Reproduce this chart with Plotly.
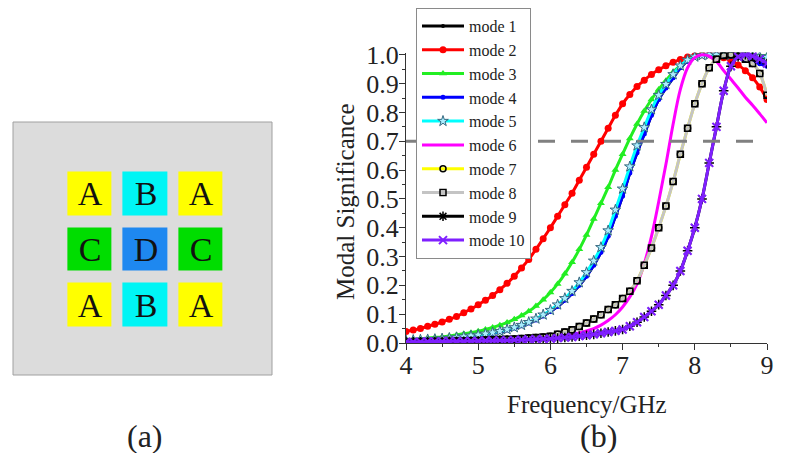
import plotly.graph_objects as go

# ---------------- data ----------------
freq = [4.0, 4.1, 4.2, 4.3, 4.4, 4.5, 4.6, 4.7, 4.8, 4.9,
        5.0, 5.1, 5.2, 5.3, 5.4, 5.5, 5.6, 5.7, 5.8, 5.9,
        6.0, 6.1, 6.2, 6.3, 6.4, 6.5, 6.6, 6.7, 6.8, 6.9,
        7.0, 7.1, 7.2, 7.3, 7.4, 7.5, 7.6, 7.7, 7.8, 7.9,
        8.0, 8.1, 8.2, 8.3, 8.4, 8.5, 8.6, 8.7, 8.8, 8.9, 9.0]

mode1 = [0.008, 0.009, 0.010, 0.011, 0.012, 0.014, 0.016, 0.018, 0.020, 0.023,
         0.026, 0.030, 0.034, 0.039, 0.045, 0.052, 0.060, 0.069, 0.080, 0.094,
         0.109, 0.127, 0.148, 0.172, 0.200, 0.232, 0.270, 0.315, 0.370, 0.440,
         0.510, 0.590, 0.660, 0.725, 0.790, 0.845, 0.885, 0.920, 0.955, 0.978,
         0.992, 0.998, 1.000, 0.999, 0.997, 0.996, 0.995, 0.994, 0.993, 0.992, 0.991]

mode2 = [0.040, 0.045, 0.050, 0.058, 0.065, 0.073, 0.082, 0.092, 0.105, 0.118,
         0.133, 0.148, 0.165, 0.185, 0.207, 0.232, 0.260, 0.290, 0.325, 0.362,
         0.400, 0.440, 0.480, 0.520, 0.565, 0.610, 0.655, 0.700, 0.745, 0.790,
         0.830, 0.862, 0.890, 0.912, 0.932, 0.948, 0.962, 0.974, 0.984, 0.992,
         0.997, 1.000, 1.000, 0.998, 0.990, 0.980, 0.965, 0.945, 0.920, 0.888, 0.845]

mode3 = [0.012, 0.013, 0.015, 0.017, 0.019, 0.021, 0.024, 0.028, 0.032, 0.036,
         0.041, 0.047, 0.054, 0.062, 0.071, 0.082, 0.095, 0.110, 0.128, 0.150,
         0.175, 0.205, 0.240, 0.280, 0.325, 0.375, 0.430, 0.485, 0.540, 0.600,
         0.655, 0.710, 0.760, 0.805, 0.845, 0.880, 0.910, 0.940, 0.962, 0.980,
         0.992, 0.998, 1.000, 1.000, 1.000, 0.999, 0.999, 0.998, 0.998, 0.997, 0.997]

mode4 = [0.008, 0.009, 0.010, 0.011, 0.012, 0.014, 0.016, 0.018, 0.020, 0.023,
         0.026, 0.030, 0.034, 0.039, 0.045, 0.052, 0.060, 0.069, 0.080, 0.094,
         0.109, 0.127, 0.148, 0.172, 0.200, 0.232, 0.270, 0.315, 0.370, 0.440,
         0.510, 0.590, 0.660, 0.725, 0.790, 0.845, 0.885, 0.920, 0.955, 0.978,
         0.992, 0.998, 1.000, 1.000, 0.998, 0.995, 0.990, 0.984, 0.977, 0.969, 0.960]

mode5 = [0.009, 0.010, 0.011, 0.012, 0.013, 0.015, 0.017, 0.019, 0.022, 0.025,
         0.028, 0.032, 0.036, 0.041, 0.047, 0.054, 0.062, 0.072, 0.084, 0.098,
         0.114, 0.133, 0.155, 0.180, 0.210, 0.245, 0.285, 0.332, 0.390, 0.462,
         0.535, 0.612, 0.685, 0.748, 0.810, 0.860, 0.898, 0.932, 0.962, 0.982,
         0.993, 0.998, 1.000, 1.000, 1.000, 0.999, 0.998, 0.997, 0.996, 0.994, 0.992]

mode6 = [0.004, 0.004, 0.005, 0.005, 0.005, 0.006, 0.006, 0.007, 0.007, 0.008,
         0.008, 0.009, 0.009, 0.010, 0.011, 0.011, 0.012, 0.014, 0.015, 0.016,
         0.018, 0.021, 0.025, 0.029, 0.035, 0.042, 0.050, 0.062, 0.078, 0.098,
         0.125, 0.160, 0.205, 0.275, 0.370, 0.490, 0.620, 0.760, 0.880, 0.955,
         0.990, 1.000, 0.995, 0.977, 0.945, 0.915, 0.885, 0.853, 0.825, 0.795, 0.764]

mode7 = [0.003, 0.003, 0.004, 0.004, 0.005, 0.005, 0.006, 0.007, 0.007, 0.008,
         0.009, 0.010, 0.011, 0.012, 0.013, 0.014, 0.016, 0.017, 0.019, 0.021,
         0.023, 0.030, 0.038, 0.046, 0.057, 0.069, 0.083, 0.098, 0.116, 0.133,
         0.154, 0.180, 0.216, 0.270, 0.330, 0.400, 0.475, 0.560, 0.655, 0.745,
         0.830, 0.900, 0.955, 0.985, 0.998, 1.000, 0.996, 0.985, 0.970, 0.935, 0.860]

mode8 = [0.003, 0.003, 0.004, 0.004, 0.005, 0.005, 0.006, 0.007, 0.007, 0.008,
         0.009, 0.010, 0.011, 0.012, 0.013, 0.014, 0.016, 0.017, 0.019, 0.021,
         0.023, 0.030, 0.038, 0.046, 0.057, 0.069, 0.083, 0.098, 0.116, 0.133,
         0.154, 0.180, 0.216, 0.270, 0.330, 0.400, 0.475, 0.560, 0.655, 0.745,
         0.830, 0.900, 0.955, 0.985, 0.998, 1.000, 0.996, 0.985, 0.970, 0.935, 0.860]

mode9 = [0.004, 0.004, 0.004, 0.005, 0.005, 0.005, 0.006, 0.006, 0.006, 0.007,
         0.007, 0.008, 0.008, 0.009, 0.009, 0.010, 0.011, 0.012, 0.013, 0.014,
         0.015, 0.017, 0.019, 0.021, 0.024, 0.027, 0.030, 0.034, 0.038, 0.042,
         0.047, 0.058, 0.072, 0.090, 0.110, 0.133, 0.165, 0.200, 0.250, 0.320,
         0.400, 0.500, 0.625, 0.750, 0.875, 0.960, 0.993, 1.000, 0.995, 0.985, 0.970]

mode10 = [0.004, 0.004, 0.004, 0.005, 0.005, 0.005, 0.006, 0.006, 0.006, 0.007,
          0.007, 0.008, 0.008, 0.009, 0.009, 0.010, 0.011, 0.012, 0.013, 0.014,
          0.015, 0.017, 0.019, 0.021, 0.024, 0.027, 0.030, 0.034, 0.038, 0.042,
          0.047, 0.058, 0.072, 0.090, 0.110, 0.133, 0.165, 0.200, 0.250, 0.320,
          0.400, 0.500, 0.625, 0.750, 0.875, 0.960, 0.993, 1.000, 0.995, 0.985, 0.970]

mode_names = ["mode 1", "mode 2", "mode 3", "mode 4", "mode 5",
              "mode 6", "mode 7", "mode 8", "mode 9", "mode 10"]
threshold = 0.7
x_ticks = [4, 5, 6, 7, 8, 9]

# panel (a): element layout
tile_labels = [["A", "B", "A"],
               ["C", "D", "C"],
               ["A", "B", "A"]]
tile_codes = [[0, 1, 0],
              [2, 3, 2],
              [0, 1, 0]]
tile_colors = ["#ffff00", "#00f5f5", "#00dd00", "#1e88f0"]

# ---------------- styles ----------------
FONT = "Liberation Serif"
series = [mode1, mode2, mode3, mode4, mode5, mode6, mode7, mode8, mode9, mode10]
styles = [
    dict(line="#000000", sym="circle", size=4, mcol="#000000", mline=0),
    dict(line="#ff0000", sym="circle", size=7, mcol="#ff0000", mline=0),
    dict(line="#22ee22", sym="triangle-up", size=7, mcol="#22ee22", mline=0),
    dict(line="#0000ff", sym="circle", size=5, mcol="#0000ff", mline=0),
    dict(line="#00ffff", sym="star", size=8, mcol="#aaeeff", mlinecol="#35687f", mline=1),
    dict(line="#ff00ff", sym=None),
    dict(line="#ffff00", sym="circle-open", size=6, mcol="#000000", mline=1.5),
    dict(line="#c4c4c4", sym="square-open", size=6, mcol="#000000", mline=1.5),
    dict(line="#000000", sym="asterisk-open", size=8, mcol="#000000", mline=1.5),
    dict(line="#7f1fff", sym="x-thin-open", size=8, mcol="#7f1fff", mline=2),
]

fig = go.Figure()

# panel (a) tiles as a gapped heatmap
fig.add_trace(go.Heatmap(
    z=tile_codes, text=tile_labels, texttemplate="%{text}",
    textfont=dict(family=FONT, size=34, color="#111111"),
    colorscale=[[0, tile_colors[0]], [1 / 3, tile_colors[1]],
                [2 / 3, tile_colors[2]], [1, tile_colors[3]]],
    zmin=0, zmax=3, showscale=False, xgap=11, ygap=12,
    hoverinfo="skip", xaxis="x2", yaxis="y2", showlegend=False))

for name, vals, st in zip(mode_names, series, styles):
    if st["sym"] is None:
        fig.add_trace(go.Scatter(x=freq, y=vals, name=name, mode="lines",
                                 line=dict(color=st["line"], width=3, shape="spline")))
    else:
        fig.add_trace(go.Scatter(
            x=freq, y=vals, name=name, mode="lines+markers",
            line=dict(color=st["line"], width=3, shape="spline"),
            marker=dict(symbol=st["sym"], size=st["size"], color=st["mcol"],
                        line=dict(width=st["mline"], color=st.get("mlinecol", st["mcol"])))))

# page has an 8px body margin: figure is sized to fit and positions shifted
OFF = 8
W, H = 786 - 2 * OFF, 461 - 2 * OFF


def px(x):
    return (x - OFF) / W


def py(y):
    return 1 - (y - OFF) / H


def label(text, x, y, size, angle=0):
    return dict(text=text, textangle=angle, xref="paper", yref="paper",
                x=px(x), y=py(y), xanchor="center", yanchor="middle",
                showarrow=False, font=dict(size=size, family=FONT, color="#222"))


fig.update_layout(
    width=W, height=H, margin=dict(l=0, r=0, t=0, b=0, autoexpand=False),
    paper_bgcolor="white", plot_bgcolor="white",
    font=dict(family=FONT, color="#222222"),
    xaxis=dict(domain=[px(406), px(767)], range=[4, 9], tickvals=x_ticks,
               ticks="outside", ticklen=6, tickwidth=1.2, tickcolor="#333",
               showline=True, linecolor="#333", linewidth=1.2,
               showgrid=False, zeroline=False, automargin=False,
               ticklabelstandoff=-7,
               minor=dict(dtick=0.5, ticks="outside", ticklen=3, tickcolor="#333"),
               tickfont=dict(size=26, family=FONT, color="#222")),
    yaxis=dict(domain=[py(343), py(52.5)], range=[0, 1.008],
               tickvals=[i / 10 for i in range(11)], tickformat=".1f",
               ticks="outside", ticklen=6, tickwidth=1.2, tickcolor="#333",
               showline=True, linecolor="#333", linewidth=1.2,
               showgrid=False, zeroline=False, automargin=False,
               ticklabelstandoff=-5,
               minor=dict(dtick=0.05, ticks="outside", ticklen=3, tickcolor="#333"),
               tickfont=dict(size=26, family=FONT, color="#222")),
    xaxis2=dict(domain=[px(13), px(272)], range=[-1.39, 3.28], visible=False,
                anchor="y2", fixedrange=True),
    yaxis2=dict(domain=[py(375), py(122)], range=[3.26, -1.28],
                visible=False, anchor="x2", fixedrange=True),
    legend=dict(x=px(416), y=py(8), xanchor="left", yanchor="top",
                bgcolor="white", bordercolor="#8a8a8a", borderwidth=1,
                font=dict(family=FONT, size=16, color="#222"),
                itemwidth=42, tracegroupgap=0),
    shapes=[
        dict(type="rect", xref="x2 domain", yref="y2 domain", x0=0, x1=1, y0=0, y1=1,
             fillcolor="#dcdcdc", line=dict(color="#a0a0a0", width=1), layer="below"),
        dict(type="line", xref="x domain", yref="y", x0=0, x1=1,
             y0=threshold, y1=threshold,
             line=dict(color="#808080", width=3, dash="17px,16px"), layer="above"),
    ],
    annotations=[
        label("Modal Significance", 345, 202, 25, angle=-90),
        label("Frequency/GHz", 587, 404, 25),
        label("(b)", 598, 436, 32),
        label("(a)", 145, 436, 32),
    ],
)

fig.write_html("out.html")
